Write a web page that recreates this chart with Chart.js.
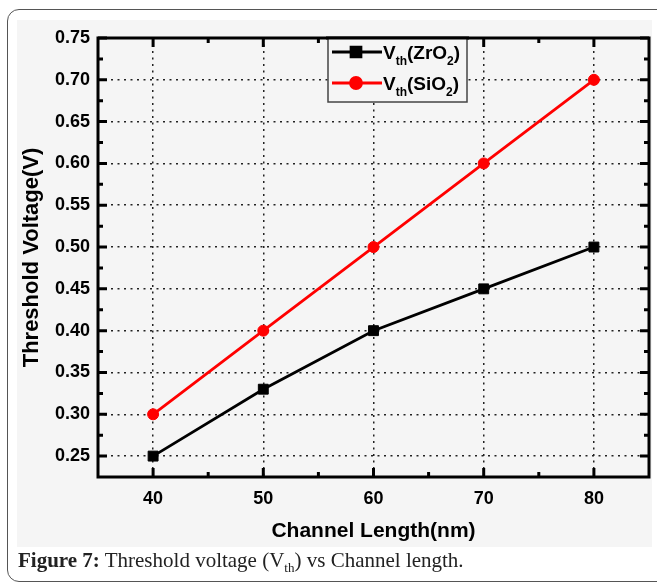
<!DOCTYPE html>
<html>
<head>
<meta charset="utf-8">
<script src="https://cdn.jsdelivr.net/npm/chart.js@4.4.0/dist/chart.umd.min.js"></script>
<style>
  html, body { margin: 0; padding: 0; background: #fff; width: 657px; height: 585px; overflow: hidden; }
  #marco { position: absolute; left: 7px; top: 9px; width: 680px; height: 573px; border: 1.5px solid #555; border-radius: 12px; box-sizing: border-box; }
  #fondo { position: absolute; left: 17px; top: 20px; width: 635px; height: 527px; background: #f5f5f5; }
  #grafico { position: absolute; left: 0; top: 0; }
  #pie { position: absolute; left: 18px; top: 550px; font-family: "Liberation Serif", serif; font-size: 21px; line-height: 21px; color: #222; white-space: nowrap; }
  #pie sub { font-size: 13px; line-height: 0; }
</style>
</head>
<body>
<div id="marco"></div>
<div id="fondo"></div>
<canvas id="grafico" width="657" height="585"></canvas>
<div id="pie"><b>Figure 7:</b> Threshold voltage (V<sub>th</sub>) vs Channel length.</div>

<script>
// --- Datos ---
const longitudes = [40, 50, 60, 70, 80];           // Channel Length (nm)
const vthZrO2 = [0.25, 0.33, 0.40, 0.45, 0.50];
const vthSiO2 = [0.30, 0.40, 0.50, 0.60, 0.70];
const ticksX = [40, 50, 60, 70, 80];
const ticksY = [0.25, 0.30, 0.35, 0.40, 0.45, 0.50, 0.55, 0.60, 0.65, 0.70, 0.75];
const nombres = ["V_{th}(ZrO_{2})", "V_{th}(SiO_{2})"];

const FUENTE = "Liberation Sans";
const FONDO = "#f5f5f5";

// "V_{th}(ZrO_{2})" -> trozos normales y subíndices
function partes(txt) {
  const out = [];
  const re = /_\{([^}]*)\}|([^_]+)/g;
  let m;
  while ((m = re.exec(txt))) {
    out.push(m[1] !== undefined ? { t: m[1], sub: true } : { t: m[2], sub: false });
  }
  return out;
}

// Marco del área y marcas hacia adentro en los cuatro lados.
const marcoEjes = {
  id: "marcoEjes",
  afterDatasetsDraw(chart) {
    const { ctx, chartArea: a, scales } = chart;
    const medios = (vals) => vals.slice(1).map((v, i) => (v + vals[i]) / 2);
    ctx.save();
    ctx.strokeStyle = "#000";
    ctx.lineWidth = 3;
    ctx.strokeRect(a.left, a.top, a.right - a.left, a.bottom - a.top);
    const marca = (vals, largo) => {
      vals.forEach((v) => {
        const px = scales.x.getPixelForValue(v);
        ctx.beginPath();
        ctx.moveTo(px, a.bottom); ctx.lineTo(px, a.bottom - largo);
        ctx.moveTo(px, a.top); ctx.lineTo(px, a.top + largo);
        ctx.stroke();
      });
    };
    const marcaY = (vals, largo) => {
      vals.forEach((v) => {
        const py = scales.y.getPixelForValue(v);
        ctx.beginPath();
        ctx.moveTo(a.left, py); ctx.lineTo(a.left + largo, py);
        ctx.moveTo(a.right, py); ctx.lineTo(a.right - largo, py);
        ctx.stroke();
      });
    };
    marca(ticksX, 9);
    marca(medios(ticksX), 5);
    marcaY(ticksY, 9);
    marcaY(medios(ticksY), 5);
    ctx.restore();
  },
};

// Leyenda dibujada a mano (para poder poner subíndices).
const leyenda = {
  id: "leyenda",
  afterDraw(chart) {
    const { ctx, chartArea: a } = chart;
    const x0 = a.left + 230, y0 = a.top, w = 139, h = 64;
    ctx.save();
    ctx.fillStyle = FONDO;
    ctx.fillRect(x0, y0, w, h);
    ctx.strokeStyle = "#444";
    ctx.lineWidth = 1.5;
    ctx.strokeRect(x0, y0, w, h);
    // redibuja el borde superior del marco
    ctx.strokeStyle = "#000";
    ctx.lineWidth = 3;
    ctx.beginPath(); ctx.moveTo(x0 - 2, y0); ctx.lineTo(x0 + w + 2, y0); ctx.stroke();

    chart.data.datasets.forEach((ds, i) => {
      const y = y0 + 14 + i * 31;
      ctx.strokeStyle = ds.borderColor;
      ctx.fillStyle = ds.backgroundColor;
      ctx.lineWidth = ds.borderWidth;
      ctx.beginPath(); ctx.moveTo(x0 + 4, y); ctx.lineTo(x0 + 54, y); ctx.stroke();
      Chart.helpers.drawPoint(ctx, { pointStyle: ds.pointStyle, radius: ds.pointRadius, borderWidth: 1, rotation: 0 }, x0 + 28, y);

      let x = x0 + 55;
      ctx.fillStyle = "#000";
      ctx.textBaseline = "alphabetic";
      partes(ds.label).forEach((p) => {
        ctx.font = p.sub ? `bold 12px "${FUENTE}"` : `bold 19px "${FUENTE}"`;
        ctx.fillText(p.t, x, p.sub ? y + 13 : y + 7);
        x += ctx.measureText(p.t).width;
      });
    });
    ctx.restore();
  },
};

const fuenteTicks = { family: FUENTE, weight: "bold", size: 18 };

new Chart(document.getElementById("grafico"), {
  type: "line",
  data: {
    datasets: [
      {
        label: nombres[0],
        data: longitudes.map((x, i) => ({ x, y: vthZrO2[i] })),
        borderColor: "#000",
        backgroundColor: "#000",
        borderWidth: 2.8,
        pointStyle: "rect",
        pointRadius: 7,
        pointBorderWidth: 1,
      },
      {
        label: nombres[1],
        data: longitudes.map((x, i) => ({ x, y: vthSiO2[i] })),
        borderColor: "#f00",
        backgroundColor: "#f00",
        borderWidth: 2.8,
        pointStyle: "circle",
        pointRadius: 5.5,
        pointBorderWidth: 1,
      },
    ],
  },
  options: {
    responsive: false,
    animation: false,
    events: [],
    layout: { padding: { top: 38, left: 19, right: 7, bottom: 41 } },
    plugins: { legend: { display: false }, tooltip: { enabled: false } },
    scales: {
      x: {
        type: "linear",
        min: 35,
        max: 85,
        afterBuildTicks: (s) => { s.ticks = ticksX.map((v) => ({ value: v })); },
        afterFit: (s) => { s.height = 67; },
        grid: { color: "#222", lineWidth: 1.5, drawTicks: false },
        border: { display: false, dash: [2, 4.5] },
        ticks: { padding: 11, color: "#000", font: fuenteTicks },
        title: { display: true, text: "Channel Length(nm)", color: "#000", font: { family: FUENTE, weight: "bold", size: 21 }, padding: 0 },
      },
      y: {
        type: "linear",
        min: 0.225,
        max: 0.75,
        afterBuildTicks: (s) => { s.ticks = ticksY.map((v) => ({ value: v })); },
        afterFit: (s) => { s.width = 79; },
        grid: { color: "#222", lineWidth: 1.5, drawTicks: false },
        border: { display: false, dash: [2, 4.5] },
        ticks: { padding: 8, color: "#000", font: fuenteTicks, callback: (v) => v.toFixed(2) },
        title: { display: true, text: "Threshold Voltage(V)", color: "#000", font: { family: FUENTE, weight: "bold", size: 22 }, padding: 0 },
      },
    },
  },
  plugins: [marcoEjes, leyenda],
});
</script>
</body>
</html>
